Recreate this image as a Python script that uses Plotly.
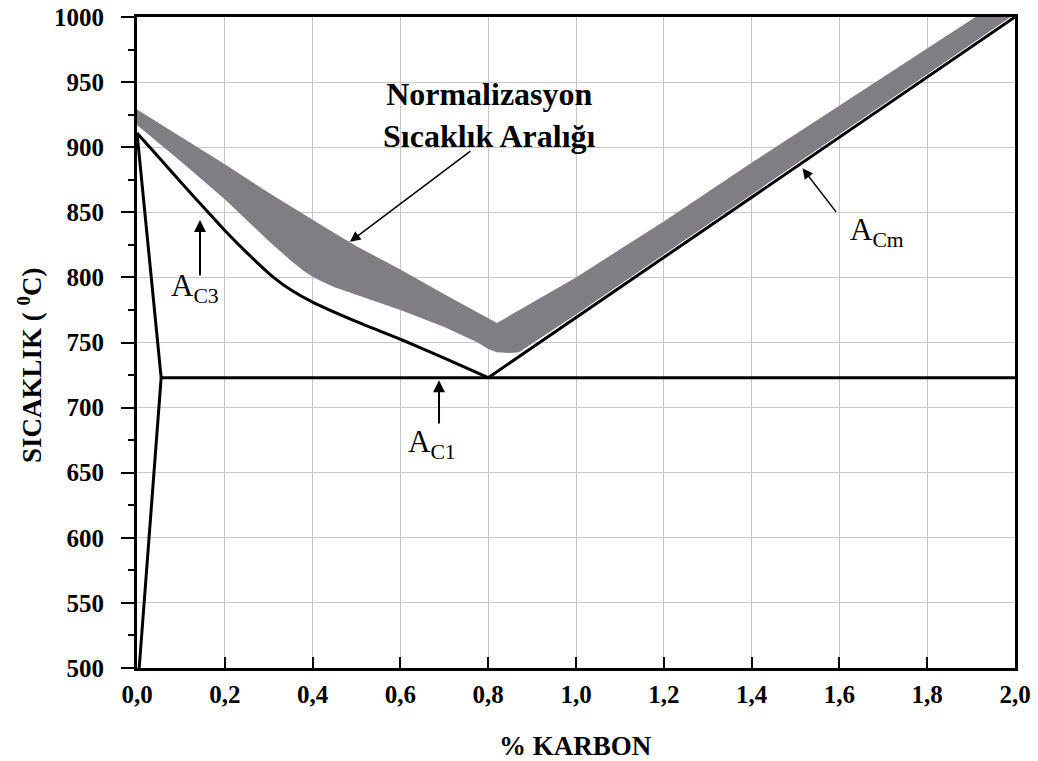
import plotly.graph_objects as go

# ---- data ----
x_ticks = [0.0, 0.2, 0.4, 0.6, 0.8, 1.0, 1.2, 1.4, 1.6, 1.8, 2.0]
y_ticks = [500, 550, 600, 650, 700, 750, 800, 850, 900, 950, 1000]

# A3 line (gamma / gamma+alpha boundary)
a3_x = [0.0, 0.05, 0.1, 0.162, 0.2, 0.25, 0.311, 0.35, 0.4, 0.5, 0.6, 0.7, 0.8]
a3_y = [911, 892, 873, 850, 836, 819, 800, 790.5, 781, 766, 752.5, 738, 723]

# alpha boundary (left)
alpha_x = [0.0, 0.055, 0.005]
alpha_y = [911, 723, 500]

# A1 eutectoid line
a1_x = [0.055, 2.0]
a1_y = [723, 723]

# Acm line
acm_x = [0.8, 2.0]
acm_y = [723, 1000]

# normalising temperature band
band_up_x = [0.0, 0.1, 0.2, 0.3, 0.4, 0.44, 0.5, 0.6, 0.7, 0.82, 1.0, 1.2, 1.4, 1.6, 1.8, 1.91]
band_up_y = [929, 908, 887, 865, 844, 836, 824, 806, 787, 765, 800, 843, 888, 932, 976, 1000]
band_lo_x = [0.0, 0.1, 0.2, 0.25, 0.3, 0.35, 0.38, 0.4, 0.42, 0.45, 0.5, 0.6, 0.7, 0.776, 0.8, 0.82,
             0.85, 0.87, 1.0, 1.2, 1.4, 1.6, 1.8, 1.99]
band_lo_y = [917, 889, 860, 844, 828, 813, 805, 800.5, 797, 792.5, 787, 775, 762, 750, 745, 742.5,
             742, 742.5, 771.5, 817.5, 864, 910, 956, 1000]

SERIF = "Liberation Serif"

fig = go.Figure()

# band polygon: upper edge forward, lower edge backward
poly_x = band_up_x + [2.0, 2.0] + band_lo_x[::-1]
poly_y = band_up_y + [1010, 1010] + band_lo_y[::-1]
fig.add_trace(go.Scatter(x=poly_x, y=poly_y, mode="lines", fill="toself",
                         fillcolor="#807e82", line=dict(width=0, color="#807e82"),
                         hoverinfo="skip", showlegend=False))

line_style = dict(color="black", width=3)
fig.add_trace(go.Scatter(x=a3_x, y=a3_y, mode="lines",
                         line=dict(color="black", width=3, shape="spline", smoothing=0.6),
                         showlegend=False))
fig.add_trace(go.Scatter(x=alpha_x, y=alpha_y, mode="lines", line=line_style, showlegend=False))
fig.add_trace(go.Scatter(x=a1_x, y=a1_y, mode="lines", line=line_style, showlegend=False))
fig.add_trace(go.Scatter(x=acm_x, y=acm_y, mode="lines", line=line_style, showlegend=False))

annotations = [
    # band label
    dict(x=0.802, y=924.5, xref="x", yref="y", showarrow=False,
         text="Normalizasyon<br>Sıcaklık Aralığı",
         font=dict(family=SERIF, size=32, color="black", weight="bold"),
         align="center", xanchor="center", yanchor="middle"),
    dict(x=0.485, y=827.4, ax=0.763, ay=897.8, xref="x", yref="y", axref="x", ayref="y",
         text="", showarrow=True, arrowhead=2, arrowsize=1.4, arrowwidth=1.5, arrowcolor="black"),
    # A_C3
    dict(x=0.132, y=792, xref="x", yref="y", showarrow=False,
         text="A<sub>C3</sub>", font=dict(family=SERIF, size=31, color="black"),
         xanchor="center", yanchor="middle"),
    dict(x=0.1435, y=844.1, ax=0.1435, ay=800.3, xref="x", yref="y", axref="x", ayref="y",
         text="", showarrow=True, arrowhead=2, arrowsize=1.2, arrowwidth=2, arrowcolor="black"),
    # A_C1
    dict(x=0.673, y=672, xref="x", yref="y", showarrow=False,
         text="A<sub>C1</sub>", font=dict(family=SERIF, size=31, color="black"),
         xanchor="center", yanchor="middle"),
    dict(x=0.688, y=721.0, ax=0.688, ay=686.6, xref="x", yref="y", axref="x", ayref="y",
         text="", showarrow=True, arrowhead=2, arrowsize=1.2, arrowwidth=2, arrowcolor="black"),
    # A_Cm
    dict(x=1.685, y=835, xref="x", yref="y", showarrow=False,
         text="A<sub>Cm</sub>", font=dict(family=SERIF, size=31, color="black"),
         xanchor="center", yanchor="middle"),
    dict(x=1.516, y=883.8, ax=1.595, ay=849.2, xref="x", yref="y", axref="x", ayref="y",
         text="", showarrow=True, arrowhead=2, arrowsize=1.4, arrowwidth=1.5, arrowcolor="black"),
    # y-axis title
    dict(x=-0.1219, y=0.4654, xref="paper", yref="paper", showarrow=False,
         text="SICAKLIK ( <sup>0</sup>C)", textangle=-90,
         font=dict(family=SERIF, size=27, color="black", weight="bold"),
         xanchor="center", yanchor="middle"),
    # x-axis title
    dict(x=0.4989, y=-0.1198, xref="paper", yref="paper", showarrow=False,
         text="% KARBON",
         font=dict(family=SERIF, size=27, color="black", weight="bold"),
         xanchor="center", yanchor="middle"),
]

fig.update_layout(
    width=1038, height=761,
    margin=dict(l=137, r=23, t=17, b=93),
    paper_bgcolor="white", plot_bgcolor="white",
    separators=",.",
    annotations=annotations,
    showlegend=False,
)

fig.update_xaxes(
    range=[0, 2.0], tickvals=x_ticks, tickformat=".1f", automargin=False,
    showgrid=True, gridcolor="#c8c8c8", gridwidth=1,
    showline=True, linecolor="black", linewidth=3, mirror=True,
    ticks="inside", ticklen=11, tickwidth=2, tickcolor="black",
    tickfont=dict(family=SERIF, size=25, color="black", weight="bold"),
    ticklabelposition="outside", ticklabelstandoff=2,
    zeroline=False,
)
fig.update_yaxes(
    range=[500, 1000], tickvals=y_ticks, automargin=False,
    showgrid=True, gridcolor="#c8c8c8", gridwidth=1,
    showline=True, linecolor="black", linewidth=3, mirror=True,
    ticks="outside", ticklen=13, tickwidth=2, tickcolor="black",
    minor=dict(dtick=25, tick0=500, ticks="outside", ticklen=6, tickwidth=2, tickcolor="black", showgrid=False),
    tickfont=dict(family=SERIF, size=25, color="black", weight="bold"),
    ticklabelposition="outside", ticklabelstandoff=12,
    zeroline=False,
)

fig.write_html("out.html")
